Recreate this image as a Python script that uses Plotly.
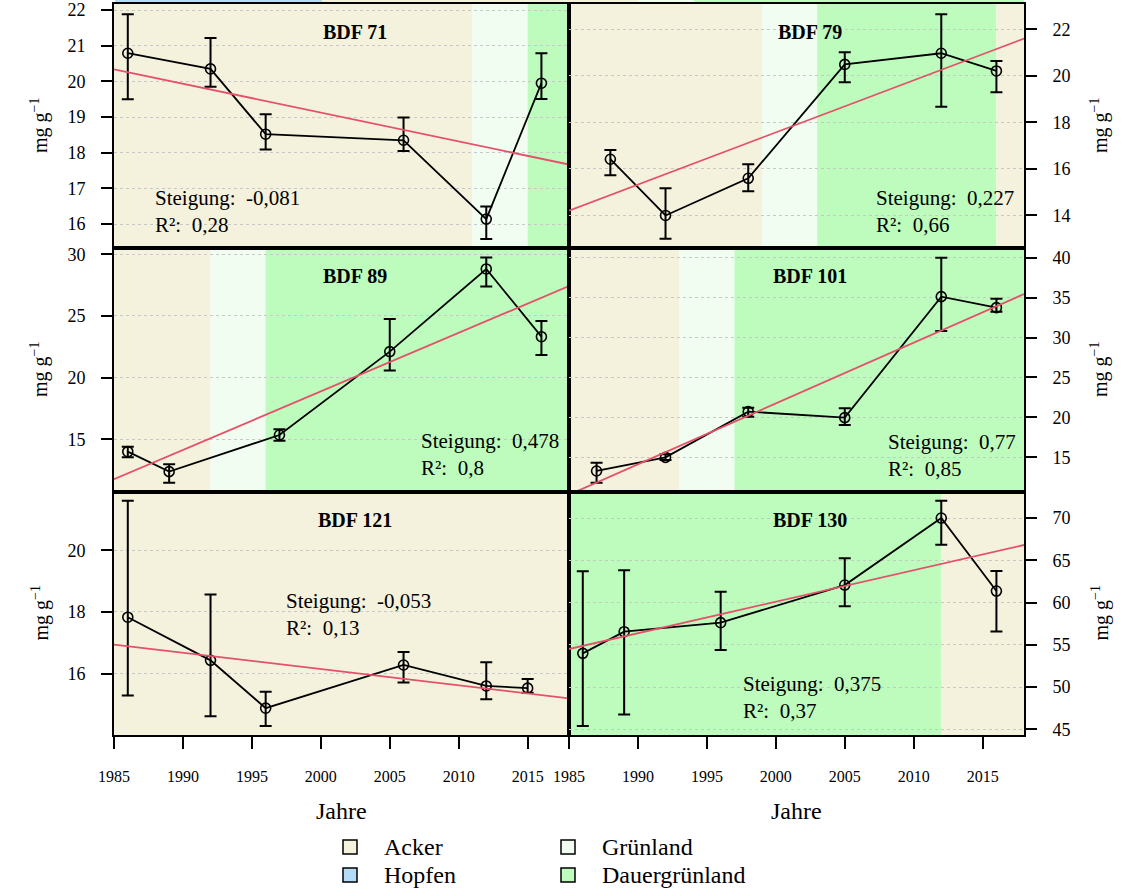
import plotly.graph_objects as go

# ---------------- data ----------------
x_range = [1985, 2018]
x_ticks = [1985, 1990, 1995, 2000, 2005, 2010, 2015]

names = ["BDF 71", "BDF 79", "BDF 89", "BDF 101", "BDF 121", "BDF 130"]

years_71 = [1986, 1992, 1996, 2006, 2012, 2016]
mean_71 = [20.79, 20.35, 18.52, 18.35, 16.14, 19.95]
hi_71 = [21.88, 21.22, 19.08, 18.99, 16.49, 20.79]
lo_71 = [19.50, 19.85, 18.09, 18.05, 15.58, 19.51]
trend_71 = [20.34, 17.67]
stats_71 = ["-0,081", "0,28"]
bands_71 = [(1985, 2011, "Acker"), (2011, 2015, "Grünland"), (2015, 2018, "Dauergrünland")]
yticks_71 = [16, 17, 18, 19, 20, 21, 22]
yrange_71 = [15.33, 22.17]

years_79 = [1988, 1992, 1998, 2005, 2012, 2016]
mean_79 = [16.41, 13.99, 15.59, 20.49, 20.97, 20.21]
hi_79 = [16.81, 15.16, 16.19, 21.01, 22.65, 20.64]
lo_79 = [15.72, 12.99, 15.03, 19.72, 18.67, 19.29]
trend_79 = [14.20, 21.60]
stats_79 = ["0,227", "0,66"]
bands_79 = [(1985, 1999, "Acker"), (1999, 2003, "Grünland"), (2003, 2016, "Dauergrünland"), (2016, 2018, "Acker")]
yticks_79 = [14, 16, 18, 20, 22]
yrange_79 = [12.59, 23.09]

years_89 = [1986, 1989, 1997, 2005, 2012, 2016]
mean_89 = [14.00, 12.38, 15.35, 22.11, 28.81, 23.32]
hi_89 = [14.40, 12.97, 15.81, 24.76, 29.73, 24.60]
lo_89 = [13.54, 11.48, 14.89, 20.57, 27.38, 21.84]
trend_89 = [11.76, 27.43]
stats_89 = ["0,478", "0,8"]
bands_89 = [(1985, 1992, "Acker"), (1992, 1996, "Grünland"), (1996, 2018, "Dauergrünland")]
yticks_89 = [15, 20, 25, 30]
yrange_89 = [10.73, 30.51]

years_101 = [1987, 1992, 1998, 2005, 2012, 2016]
mean_101 = [13.29, 15.00, 20.72, 19.97, 35.12, 33.74]
hi_101 = [14.33, 15.38, 21.22, 21.14, 40.00, 34.87]
lo_101 = [11.83, 14.67, 20.09, 19.05, 30.82, 33.24]
trend_101 = [10.32, 35.45]
stats_101 = ["0,77", "0,85"]
bands_101 = [(1985, 1993, "Acker"), (1993, 1997, "Grünland"), (1997, 2018, "Dauergrünland")]
yticks_101 = [15, 20, 25, 30, 35, 40]
yrange_101 = [10.66, 41.21]

years_121 = [1986, 1992, 1996, 2006, 2012, 2015]
mean_121 = [17.83, 16.43, 14.88, 16.28, 15.60, 15.53]
hi_121 = [21.61, 18.57, 15.41, 16.70, 16.37, 15.83]
lo_121 = [15.29, 14.62, 14.30, 15.71, 15.17, 15.38]
trend_121 = [16.94, 15.20]
stats_121 = ["-0,053", "0,13"]
bands_121 = [(1985, 2018, "Acker")]
yticks_121 = [16, 18, 20]
yrange_121 = [14.01, 21.89]

years_130 = [1986, 1989, 1996, 2005, 2012, 2016]
mean_130 = [53.99, 56.55, 57.62, 62.07, 70.00, 61.36]
hi_130 = [63.69, 63.81, 61.28, 65.23, 72.05, 63.73]
lo_130 = [45.39, 46.77, 54.38, 59.55, 66.85, 56.59]
trend_130 = [54.50, 66.81]
stats_130 = ["0,375", "0,37"]
bands_130 = [(1985, 2012, "Dauergrünland"), (2012, 2018, "Acker")]
yticks_130 = [45, 50, 55, 60, 65, 70]
yrange_130 = [44.33, 73.08]

legend_labels = ["Acker", "Hopfen", "Grünland", "Dauergrünland"]

# ---------------- styles ----------------
COLORS = {"Acker": "#F4F2DC", "Hopfen": "#B4DCF8", "Grünland": "#F0FDF0", "Dauergrünland": "#BEFCBE"}
RED = "#E5506A"
FONT = "Liberation Serif"
W, H = 1134, 890

panels = [
    dict(name=names[0], yrs=years_71, m=mean_71, hi=hi_71, lo=lo_71, tr=trend_71, st=stats_71, bands=bands_71, yt=yticks_71, yr=yrange_71, stat_pos=(1987.8, 0.15)),
    dict(name=names[1], yrs=years_79, m=mean_79, hi=hi_79, lo=lo_79, tr=trend_79, st=stats_79, bands=bands_79, yt=yticks_79, yr=yrange_79, stat_pos=(2007.1, 0.15)),
    dict(name=names[2], yrs=years_89, m=mean_89, hi=hi_89, lo=lo_89, tr=trend_89, st=stats_89, bands=bands_89, yt=yticks_89, yr=yrange_89, stat_pos=(2007.1, 0.155)),
    dict(name=names[3], yrs=years_101, m=mean_101, hi=hi_101, lo=lo_101, tr=trend_101, st=stats_101, bands=bands_101, yt=yticks_101, yr=yrange_101, stat_pos=(2008.0, 0.15)),
    dict(name=names[4], yrs=years_121, m=mean_121, hi=hi_121, lo=lo_121, tr=trend_121, st=stats_121, bands=bands_121, yt=yticks_121, yr=yrange_121, stat_pos=(1997.3, 0.496)),
    dict(name=names[5], yrs=years_130, m=mean_130, hi=hi_130, lo=lo_130, tr=trend_130, st=stats_130, bands=bands_130, yt=yticks_130, yr=yrange_130, stat_pos=(1997.5, 0.154)),
]

# pixel layout -> paper fractions
xdom = [[114 / W, 569 / W], [569 / W, 1024 / W]]
row_px = [(4, 248), (248, 492), (492, 735)]
ydom = [[1 - b / H, 1 - t / H] for t, b in row_px]

fig = go.Figure()
shapes = []
annotations = []
layout_axes = {}

for i, p in enumerate(panels):
    row, col = i // 2, i % 2
    n = "" if i == 0 else str(i + 1)
    xa, ya = "x" + n, "y" + n
    # background land-use bands
    for (a, b, kind) in p["bands"]:
        shapes.append(dict(type="rect", xref=xa, yref=ya + " domain", x0=a, x1=b, y0=0, y1=1,
                           fillcolor=COLORS[kind], line=dict(width=0), layer="below"))
    err_plus = [h - m for h, m in zip(p["hi"], p["m"])]
    err_minus = [m - l for m, l in zip(p["m"], p["lo"])]
    fig.add_trace(go.Scatter(
        x=p["yrs"], y=p["m"], xaxis=xa, yaxis=ya, mode="lines+markers",
        line=dict(color="black", width=1.8),
        marker=dict(symbol="circle-open", size=10, color="black", line=dict(width=1.6)),
        error_y=dict(type="data", symmetric=False, array=err_plus, arrayminus=err_minus,
                     color="black", thickness=2, width=6),
        showlegend=False, cliponaxis=False))
    fig.add_trace(go.Scatter(
        x=x_range, y=p["tr"], xaxis=xa, yaxis=ya, mode="lines",
        line=dict(color=RED, width=1.8), showlegend=False))

    bottom = row == 2
    layout_axes["xaxis" + n] = dict(
        domain=xdom[col], anchor=ya, range=x_range, showgrid=False, zeroline=False,
        showline=True, mirror=True, linecolor="black", linewidth=2, automargin=False,
        tickvals=x_ticks if bottom else [], ticks="outside" if bottom else "",
        ticklen=12, tickwidth=1.5, tickcolor="black", showticklabels=bottom,
        ticklabelstandoff=14,
        tickfont=dict(family=FONT, size=16, color="black"))
    layout_axes["yaxis" + n] = dict(
        domain=ydom[row], anchor=xa, range=p["yr"], side="left" if col == 0 else "right",
        tickvals=p["yt"], ticks="outside", ticklen=11, tickwidth=1.5, tickcolor="black",
        showline=True, mirror=True, linecolor="black", linewidth=2, zeroline=False,
        showgrid=True, gridcolor="#C8C8C8", griddash="dot", gridwidth=1, automargin=False,
        ticklabelstandoff=12,
        tickfont=dict(family=FONT, size=18, color="black"))

    # panel title
    annotations.append(dict(xref=xa, yref=ya + " domain", x=2002.5, y=0.885,
                            text="<b>%s</b>" % p["name"], showarrow=False,
                            font=dict(family=FONT, size=20, color="black"),
                            xanchor="center", yanchor="middle"))
    sx, sy = p["stat_pos"]
    annotations.append(dict(xref=xa, yref=ya + " domain", x=sx, y=sy,
                            text="Steigung: \u00a0%s<br>R²: \u00a0%s" % (p["st"][0], p["st"][1]),
                            showarrow=False, align="left",
                            font=dict(family=FONT, size=21, color="black"),
                            xanchor="left", yanchor="middle"))
    # y-axis unit label
    lx = 40 / W if col == 0 else 1100 / W
    annotations.append(dict(xref="paper", yref="paper", x=lx, y=sum(ydom[row]) / 2,
                            text="mg g<sup>\u22121</sup>", textangle=-90, showarrow=False,
                            font=dict(family=FONT, size=20, color="black"),
                            xanchor="center", yanchor="middle"))

# x-axis titles
for cx in (341, 796):
    annotations.append(dict(xref="paper", yref="paper", x=cx / W, y=1 - 811 / H, text="Jahre",
                            showarrow=False, font=dict(family=FONT, size=24, color="black"),
                            xanchor="center", yanchor="middle"))

# thin strips from the row above (cropped figure)
top_strips = [(115, 322, "Hopfen"), (322, 569, "Acker"), (569, 638, "Acker"),
              (638, 694, "Grünland"), (694, 1024, "Dauergrünland")]
for a, b, kind in top_strips:
    shapes.append(dict(type="rect", xref="paper", yref="paper", x0=a / W, x1=b / W,
                       y0=1 - 3.5 / H, y1=1, fillcolor=COLORS[kind], line=dict(width=0), layer="below"))

# legend (manual)
legend_pos = [(350, 847), (350, 875), (568, 847), (568, 875)]
for lab, (cx, cy) in zip(legend_labels, legend_pos):
    s = 7
    shapes.append(dict(type="rect", xref="paper", yref="paper",
                       x0=(cx - s) / W, x1=(cx + s) / W, y0=1 - (cy + s) / H, y1=1 - (cy - s) / H,
                       fillcolor=COLORS[lab], line=dict(color="black", width=1.5)))
    annotations.append(dict(xref="paper", yref="paper", x=(cx + 32) / W, y=1 - cy / H, text=lab,
                            showarrow=False, font=dict(family=FONT, size=24, color="black"),
                            xanchor="left", yanchor="middle"))

fig.update_layout(
    width=W, height=H, autosize=False,
    margin=dict(l=0, r=0, t=0, b=0, autoexpand=False),
    paper_bgcolor="white", plot_bgcolor="white",
    shapes=shapes, annotations=annotations, showlegend=False,
    font=dict(family=FONT, color="black"),
    **layout_axes)

fig.write_html("out.html",
               config={"displayModeBar": False},
               post_script="document.body.style.margin='0px';document.body.style.padding='0px';"
                           "document.body.style.overflow='hidden';")
